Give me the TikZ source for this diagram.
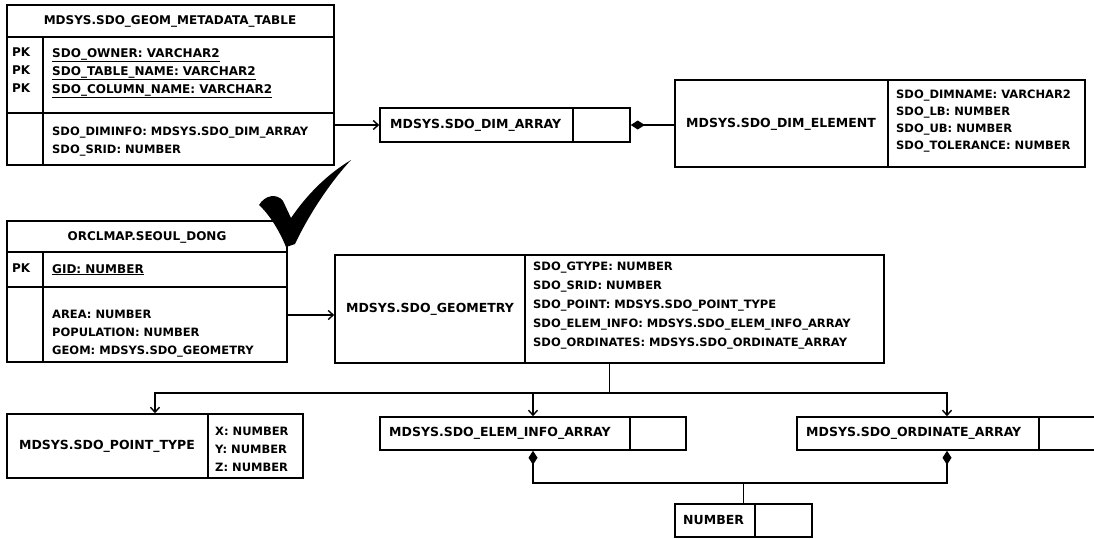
\documentclass[tikz,border=0pt]{standalone}
\usepackage{fontspec}
\setmainfont{DejaVu Sans}
\usetikzlibrary{arrows.meta,fit}
\begin{document}
\begin{tikzpicture}[x=1pt,y=-1pt,
  box/.style={draw, line width=1.5pt, inner sep=0pt, fit={#1}},
  sep/.style={line width=1.5pt},
  txt/.style={inner sep=0pt, font=\fontsize{11.5}{18}\selectfont\bfseries, align=left},
  keytxt/.style={txt, font=\fontsize{12}{18}\selectfont\bfseries},
  lbl/.style={inner sep=0pt, font=\fontsize{12.5}{18}\selectfont\bfseries},
  ttl/.style={inner sep=0pt, font=\fontsize{12}{18}\selectfont\bfseries},
  conn/.style={line width=1.5pt},
  arr/.style={conn, -{Straight Barb[length=5pt,width=9pt,line width=1.4pt]}},
  dia/.style={conn, {Diamond[length=14pt,width=9pt]}-},
  diadia/.style={conn, {Diamond[length=14pt,width=9pt]}-{Diamond[length=14pt,width=9pt]}}
]
\useasboundingbox (0,0) rectangle (1094,538);

% ---------- MDSYS.SDO_GEOM_METADATA_TABLE ----------
\node[box={(7,5) (334,165)}] (meta) {};
\draw[sep] (7,37) -- (334,37);
\draw[sep] (7,113) -- (334,113);
\draw[sep] (43,37) -- (43,165);
\node[ttl] (metat) at (170,21) {MDSYS.SDO\_GEOM\_METADATA\_TABLE};
\node[keytxt, anchor=north west] (metapk) at (12,48) {PK\\PK\\PK};
\node[keytxt, anchor=north west] (metakeys) at (52,48) {\underline{SDO\_OWNER: VARCHAR2}\\\underline{SDO\_TABLE\_NAME: VARCHAR2}\\\underline{SDO\_COLUMN\_NAME: VARCHAR2}};
\node[txt, anchor=north west] (metaf) at (52,127) {SDO\_DIMINFO: MDSYS.SDO\_DIM\_ARRAY\\SDO\_SRID: NUMBER};

% ---------- DIM ARRAY ----------
\node[box={(380,108) (630,142)}] (dimarr) {};
\draw[sep] (573,108) -- (573,142);
\node[lbl, anchor=west] (dimarrt) at (390,125) {MDSYS.SDO\_DIM\_ARRAY};

% ---------- DIM ELEMENT ----------
\node[box={(675,80) (1085,167)}] (dimel) {};
\draw[sep] (888,80) -- (888,167);
\node[lbl] (dimelt) at (781,124) {MDSYS.SDO\_DIM\_ELEMENT};
\node[txt, anchor=north west, font=\fontsize{11.5}{17}\selectfont\bfseries] (dimelf) at (896,90) {SDO\_DIMNAME: VARCHAR2\\SDO\_LB: NUMBER\\SDO\_UB: NUMBER\\SDO\_TOLERANCE: NUMBER};

% ---------- ORCLMAP.SEOUL_DONG ----------
\node[box={(7,221) (287,362)}] (seoul) {};
\draw[sep] (7,252) -- (287,252);
\draw[sep] (7,287) -- (287,287);
\draw[sep] (43,252) -- (43,362);
\node[ttl] (seoult) at (147,237) {ORCLMAP.SEOUL\_DONG};
\node[keytxt, anchor=north west] (seoulpk) at (12,264) {PK};
\node[keytxt, anchor=north west] (seoulkey) at (52,264) {\underline{GID: NUMBER}};
\node[txt, anchor=north west] (seoulf) at (52,310) {AREA: NUMBER\\POPULATION: NUMBER\\GEOM: MDSYS.SDO\_GEOMETRY};

% check mark
\fill (259,205) .. controls (265,195) and (277,193) .. (283,201) -- (291,218) .. controls (306,196) and (326,175) .. (351,160) .. controls (334,178) and (311,210) .. (295,244) -- (286,247) .. controls (280,232) and (270,215) .. (259,205) -- cycle;

% ---------- GEOMETRY ----------
\node[box={(335,255) (884,363)}] (geom) {};
\draw[sep] (525,255) -- (525,363);
\node[lbl] (geomt) at (430,309) {MDSYS.SDO\_GEOMETRY};
\node[txt, anchor=north west, font=\fontsize{11.5}{19}\selectfont\bfseries] (geomf) at (533,262) {SDO\_GTYPE: NUMBER\\SDO\_SRID: NUMBER\\SDO\_POINT: MDSYS.SDO\_POINT\_TYPE\\SDO\_ELEM\_INFO: MDSYS.SDO\_ELEM\_INFO\_ARRAY\\SDO\_ORDINATES: MDSYS.SDO\_ORDINATE\_ARRAY};

% ---------- POINT TYPE ----------
\node[box={(7,414) (303,478)}] (point) {};
\draw[sep] (208,414) -- (208,478);
\node[lbl] (pointt) at (107,446) {MDSYS.SDO\_POINT\_TYPE};
\node[txt, anchor=north west] (pointf) at (215,427) {X: NUMBER\\Y: NUMBER\\Z: NUMBER};

% ---------- ELEM INFO ARRAY ----------
\node[box={(380,417) (686,450)}] (elem) {};
\draw[sep] (630,417) -- (630,450);
\node[lbl, anchor=west] (elemt) at (389,433) {MDSYS.SDO\_ELEM\_INFO\_ARRAY};

% ---------- ORDINATE ARRAY ----------
\node[box={(797,417) (1097,450)}] (ord) {};
\draw[sep] (1039,417) -- (1039,450);
\node[lbl, anchor=west] (ordt) at (806,433) {MDSYS.SDO\_ORDINATE\_ARRAY};

% ---------- NUMBER ----------
\node[box={(675,504) (812,537)}] (number) {};
\draw[sep] (755,504) -- (755,537);
\node[lbl, anchor=west] (numbert) at (683,520) {NUMBER};

% ---------- connectors ----------
\draw[arr] (meta.east |- dimarr.west) -- (dimarr.west);
\draw[dia] (dimarr.east) -- (dimel.west |- dimarr.east);
\draw[arr] (seoul.east |- 0,315) -- (geom.west |- 0,315);
\draw[conn] (geom.south) -- ++(0,29) coordinate (hub);
\draw[arr] (hub) -| (point.north);
\draw[arr] (hub) -| (elem.north);
\draw[arr] (hub) -| (ord.north);
\draw[diadia] (elem.south) -- ++(0,32) coordinate (bus) -| (ord.south);
\draw[conn] (number.north) -- (number.north |- bus);
\end{tikzpicture}
\end{document}
